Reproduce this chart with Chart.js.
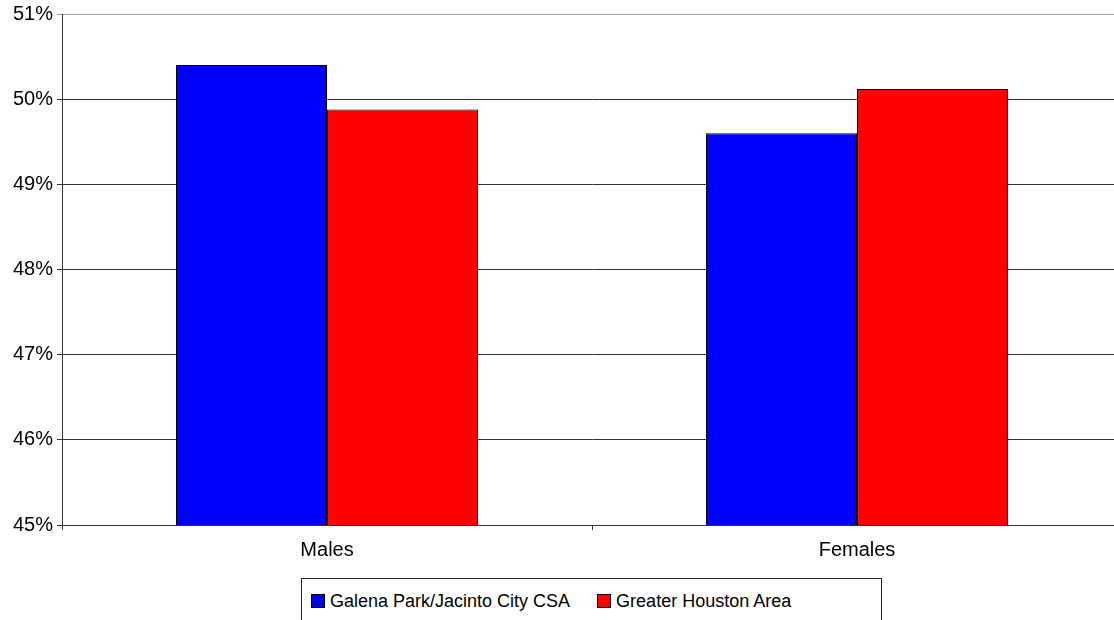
<!DOCTYPE html>
<html>
<head>
<meta charset="utf-8">
<script src="https://cdn.jsdelivr.net/npm/chart.js@4"></script>
<style>
    html, body { margin: 0; padding: 0; background: #fff; overflow: hidden; }
    body { width: 1114px; height: 620px; position: relative; }
    .chart-wrap { position: absolute; left: 0; top: 0; width: 1124px; height: 570px; }
    .legend {
        position: absolute; left: 301px; top: 578px; width: 581px; height: 60px;
        border: 1px solid #222; box-sizing: border-box;
        display: flex; align-items: flex-start; padding: 11px 0 0 9px;
        font-family: "Liberation Sans", Arial, sans-serif; font-size: 18px; color: #000;
    }
    .legend-item { display: flex; align-items: center; margin-right: 27px; line-height: 22px; }
    .legend-swatch { width: 12px; height: 12px; border: 1px solid #000; margin-right: 5px; }
</style>
</head>
<body>
<div class="chart-wrap"><canvas id="chart"></canvas></div>
<div class="legend" id="legend"></div>
<script>
// Data
const categories = ['Males', 'Females'];
const seriesNames = ['Galena Park/Jacinto City CSA', 'Greater Houston Area'];
const galenaValues = [50.4, 49.6];
const houstonValues = [49.88, 50.12];
const seriesColors = ['#0000ff', '#ff0000'];
const yTicks = [45, 46, 47, 48, 49, 50, 51];

document.addEventListener('DOMContentLoaded', function () {
    const canvas = document.getElementById('chart');
    const font = { family: '"Liberation Sans", Arial, sans-serif', size: 20 };

    new Chart(canvas, {
        type: 'bar',
        data: {
            labels: categories,
            datasets: [galenaValues, houstonValues].map((values, i) => ({
                label: seriesNames[i],
                data: values,
                backgroundColor: seriesColors[i],
                borderColor: '#000',
                borderWidth: 1,
                borderSkipped: false,
                categoryPercentage: 0.57,
                barPercentage: 1.0
            }))
        },
        options: {
            responsive: true,
            maintainAspectRatio: false,
            animation: false,
            devicePixelRatio: 1,
            layout: { padding: { left: 9, right: 2, top: 1, bottom: 0 } },
            plugins: {
                legend: { display: false },
                tooltip: { enabled: false }
            },
            scales: {
                y: {
                    min: yTicks[0],
                    max: yTicks[yTicks.length - 1],
                    afterBuildTicks: function (axis) {
                        axis.ticks = yTicks.map(v => ({ value: v }));
                    },
                    ticks: {
                        color: '#000',
                        font: Object.assign({}, font, { lineHeight: 1.0 }),
                        padding: 4,
                        callback: function (value) {
                            return value + '%';
                        }
                    },
                    grid: {
                        color: function (ctx) {
                            return ctx.tick && ctx.tick.value === yTicks[yTicks.length - 1] ? '#9a9a9a' : '#333';
                        },
                        lineWidth: 1,
                        tickLength: 5
                    },
                    border: { color: '#333', width: 1 }
                },
                x: {
                    ticks: { color: '#000', font: font, padding: 8 },
                    grid: {
                        offset: true,
                        drawOnChartArea: false,
                        color: '#333',
                        tickLength: 5
                    },
                    border: { color: '#333', width: 1 }
                }
            }
        }
    });

    // Legend built from the series names
    const legend = document.getElementById('legend');
    seriesNames.forEach((name, i) => {
        const item = document.createElement('div');
        item.className = 'legend-item';
        item.innerHTML = `<span class="legend-swatch" style="background:${seriesColors[i]}"></span><span>${name}</span>`;
        legend.appendChild(item);
    });
});
</script>
</body>
</html>
